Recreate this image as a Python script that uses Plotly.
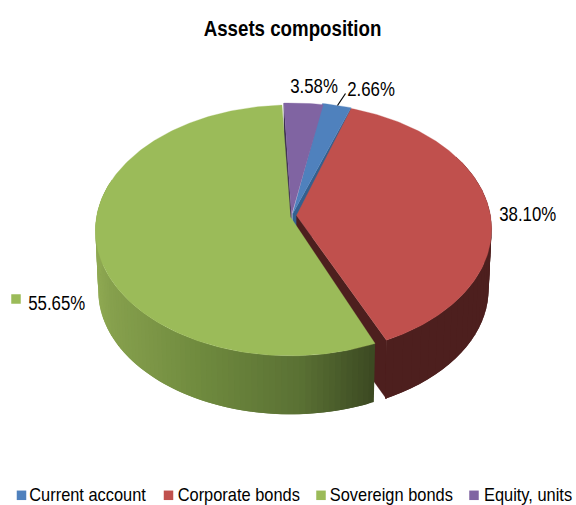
import math
import plotly.graph_objects as go

categories = ["Current account", "Corporate bonds", "Sovereign bonds", "Equity, units"]
shares = [2.66, 38.10, 55.65, 3.58]
title_text = "Assets composition"

# ---- style / layout constants ----
TOP = ["#4F81BD", "#C0504D", "#9BBB59", "#8064A2"]
INNER = ["#33608F", "#4D1F1E", None, "#3A2C50"]
START = 9.3
PERSP = 0.107
RX, RY = 194.0, 124.0
DEPTH, K = 60.5, 0.985
# rim centre of each exploded slice and small angular correction
SLICE = [
    dict(cx=292.5, cy=214, shift=0.5),
    dict(cx=296.5, cy=215.5, shift=-0.8),
    dict(cx=290.5, cy=217, shift=0.8),
    dict(cx=291.5, cy=215, shift=1.1),
]
FONT = "Liberation Sans, Arial, sans-serif"
GREEN_STOPS = [(96, (143, 169, 82)), (110, (134, 160, 77)), (200, (111, 138, 62)),
               (300, (90, 113, 52)), (373, (60, 74, 34))]


def top_pt(s, deg):
    t = math.radians(deg)
    u, v = math.sin(t), math.cos(t)
    w = 1 + PERSP * v
    return s["cx"] + RX * u / w, s["cy"] - RY * v / w


def bot_pt(s, deg):
    t = math.radians(deg)
    u, v = math.sin(t), math.cos(t)
    w = 1 + PERSP * v
    return s["cx"] + K * RX * u / w, s["cy"] + DEPTH - K * RY * v / w


def arc(fn, s, a, b, step=1.0):
    n = max(2, int(abs(b - a) / step))
    return [fn(s, a + (b - a) * i / n) for i in range(n + 1)]


def green_color(x):
    st = GREEN_STOPS
    if x <= st[0][0]:
        c = st[0][1]
    elif x >= st[-1][0]:
        c = st[-1][1]
    else:
        for (x0, c0), (x1, c1) in zip(st, st[1:]):
            if x0 <= x <= x1:
                f = (x - x0) / (x1 - x0)
                c = tuple(c0[i] + (c1[i] - c0[i]) * f for i in range(3))
                break
    return "rgb(%d,%d,%d)" % tuple(round(q) for q in c)


fig = go.Figure()


def poly(pts, color, lw=0.6):
    fig.add_trace(go.Scatter(
        x=[p[0] for p in pts] + [pts[0][0]], y=[p[1] for p in pts] + [pts[0][1]],
        mode="lines", fill="toself", fillcolor=color,
        line=dict(color=color, width=lw), hoverinfo="skip", showlegend=False))


# slice angle ranges from the values
ranges = []
acc = START
for i, val in enumerate(shares):
    sweep = val / sum(shares) * 360
    ranges.append((acc + SLICE[i]["shift"], acc + sweep + SLICE[i]["shift"]))
    acc += sweep

cur, corp, sov, eq = 0, 1, 2, 3


def lower(s, p):
    return p[0], p[1] + DEPTH * 0.97


# inner cut faces (drawn first, back to front)
s = SLICE[eq]
a = (s["cx"], s["cy"])
r = top_pt(s, ranges[eq][0])
poly([a, r, lower(s, r), lower(s, a)], INNER[eq], 0.3)

s = SLICE[cur]
a = (s["cx"], s["cy"])
r = top_pt(s, ranges[cur][1])
poly([a, r, lower(s, r), lower(s, a)], INNER[cur], 0.3)

s = SLICE[corp]
a = (s["cx"], s["cy"])
r = top_pt(s, ranges[corp][1])
poly([a, r, lower(s, r), lower(s, a)], INNER[corp], 0.3)

# outer wall of the red slice: overlapping quads so the outline follows the tangent without seams
d = 60.0
end = ranges[corp][1]
while d < end:
    e = min(d + 6, end)
    poly([top_pt(s, d), top_pt(s, e), bot_pt(s, e), bot_pt(s, d)], INNER[corp], 0)
    d += 3

# outer wall of the green slice, overlapping strips for a smooth shading
s = SLICE[sov]
STEP = 1.6
d = ranges[sov][0]
while d < 285:
    e = d + 2 * STEP
    p = [top_pt(s, d), top_pt(s, e), bot_pt(s, e), bot_pt(s, d)]
    poly(p, green_color((top_pt(s, d)[0] + top_pt(s, d + STEP)[0]) / 2), 0)
    d += STEP

# top faces
for i in (sov, corp, cur, eq):
    s = SLICE[i]
    pts = [(s["cx"], s["cy"])] + arc(top_pt, s, ranges[i][0], ranges[i][1])
    poly(pts, TOP[i], 0.3)

# leader line of the smallest slice
fig.add_trace(go.Scatter(x=[337.5, 345.5], y=[105.5, 93.5], mode="lines",
                         line=dict(color="#000000", width=1.2),
                         hoverinfo="skip", showlegend=False))

# legend keys and key next to the largest label
LEGEND_KEY_X = [21.5, 168.5, 321, 474]
LEGEND_TEXT_CX = [88, 238.5, 391.5, 528]
LEGEND_KEY_Y = 495.3
LEGEND_TEXT_Y = 494
fig.add_trace(go.Scatter(x=LEGEND_KEY_X + [16], y=[LEGEND_KEY_Y] * 4 + [299], mode="markers",
                         marker=dict(symbol="square", size=9.5, color=TOP + [TOP[sov]], line=dict(width=0)),
                         hoverinfo="skip", showlegend=False))

annotations = [dict(x=292.5, y=28, text="<b>%s</b>" % title_text,
                    font=dict(family=FONT, size=22, color="#000000"))]
for name, x in zip(categories, LEGEND_TEXT_CX):
    annotations.append(dict(x=x, y=LEGEND_TEXT_Y, text=name,
                            font=dict(family=FONT, size=19, color="#000000")))
LABEL_POS = [(371, 88), (528, 213), (56.5, 302), (313.5, 85)]
for val, (x, y) in zip(shares, LABEL_POS):
    annotations.append(dict(x=x, y=y, text="%.2f%%" % val,
                            font=dict(family=FONT, size=20.5, color="#000000")))
for an in annotations:
    an.update(xref="x", yref="y", showarrow=False, xanchor="center", yanchor="middle", borderpad=0)

fig.update_layout(
    width=576, height=505, margin=dict(l=0, r=0, t=0, b=0),
    paper_bgcolor="#FFFFFF", plot_bgcolor="#FFFFFF",
    xaxis=dict(range=[0, 576], visible=False, fixedrange=True),
    yaxis=dict(range=[505, 0], visible=False, fixedrange=True),
    annotations=annotations, showlegend=False)

# No narrow face is installed: squeeze the real text horizontally instead, and drop the page margin.
POST = """
document.body.style.margin = '0';
document.querySelectorAll('.annotation-text').forEach(function (t) {
  var s = t.textContent;
  var f = s.indexOf('Assets') === 0 ? 0.85 : (s.indexOf('%') > 0 ? 0.82 : 0.863);
  t.setAttribute('textLength', t.getComputedTextLength() * f);
  t.setAttribute('lengthAdjust', 'spacingAndGlyphs');
});
"""
fig.write_html("out.html", post_script=POST, config=dict(displayModeBar=False))
